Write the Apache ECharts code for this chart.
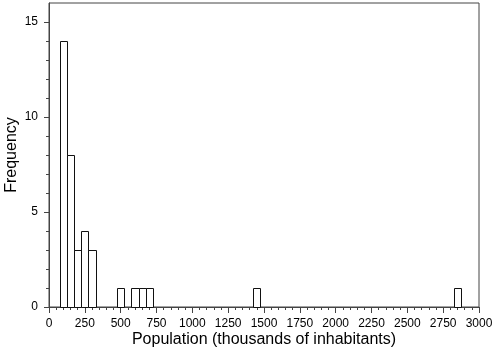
<!DOCTYPE html>
<html>
<head>
<meta charset="utf-8">
<script src="https://cdn.jsdelivr.net/npm/echarts@6/dist/echarts.min.js"></script>
<style>
html,body{margin:0;padding:0;background:#fff;}
#chart{width:498px;height:351px;}
</style>
</head>
<body>
<div id="chart"></div>
<script>
// Histogram data: bin centres (thousands of inhabitants) and frequencies
const binCenters = [100, 150, 200, 250, 300, 500, 600, 650, 700, 1450, 2850];
const frequencies = [14, 8, 3, 4, 3, 1, 1, 1, 1, 1, 1];
const binWidth = 50;

// Axis ticks
const xMin = 0, xMax = 3000, xInterval = 250;
const yMin = 0, yMax = 16;
const yMajorTicks = [0, 5, 10, 15];
const yMinorTicks = [1, 2, 3, 4, 6, 7, 8, 9, 11, 12, 13, 14];

const xTitle = 'Population (thousands of inhabitants)';
const yTitle = 'Frequency';

const FONT = 'Liberation Sans, Arial, Helvetica, sans-serif';
const AXIS_COLOR = '#444';

const data = binCenters.map((c, i) => [c, frequencies[i]]);

const chart = echarts.init(document.getElementById('chart'), null, {renderer: 'canvas'});
chart.setOption({
  animation: false,
  backgroundColor: '#fff',
  grid: {
    left: 49, right: 19, top: 3, bottom: 44,
    containLabel: false, outerBoundsMode: 'none',
    show: true, borderColor: AXIS_COLOR, borderWidth: 1, backgroundColor: 'transparent'
  },
  xAxis: {
    type: 'value', min: xMin, max: xMax, interval: xInterval,
    name: xTitle, nameLocation: 'middle', nameGap: 25, nameMoveOverlap: false,
    nameTextStyle: {fontFamily: FONT, fontSize: 16, color: '#000'},
    axisLine: {show: true, onZero: false, lineStyle: {color: AXIS_COLOR, width: 1}},
    axisTick: {show: true, inside: false, length: 6, lineStyle: {color: AXIS_COLOR}},
    minorTick: {show: true, splitNumber: 5, length: 3, lineStyle: {color: AXIS_COLOR}},
    splitLine: {show: false},
    axisLabel: {fontFamily: FONT, fontSize: 12, color: '#000', margin: 11,
      showMaxLabel: true, showMinLabel: true, hideOverlap: false,
      formatter: function (v) { return String(v); }}
  },
  yAxis: [{
    type: 'value', min: yMin, max: yMax,
    name: yTitle, nameLocation: 'middle', nameGap: 29, nameMoveOverlap: false,
    nameTextStyle: {fontFamily: FONT, fontSize: 16, color: '#000'},
    axisLine: {show: true, onZero: false, lineStyle: {color: AXIS_COLOR, width: 1}},
    axisTick: {show: true, inside: false, length: 5, customValues: yMajorTicks, lineStyle: {color: AXIS_COLOR}},
    splitLine: {show: false},
    axisLabel: {fontFamily: FONT, fontSize: 12, color: '#000', margin: 11, customValues: yMajorTicks}
  }, {
    type: 'value', min: yMin, max: yMax, position: 'left',
    axisLine: {show: false},
    axisTick: {show: true, inside: false, length: 3, customValues: yMinorTicks, lineStyle: {color: AXIS_COLOR}},
    splitLine: {show: false},
    axisLabel: {show: false}
  }],
  series: [{
    type: 'custom',
    yAxisIndex: 0,
    data: data,
    renderItem: function (params, api) {
      const c = api.value(0), f = api.value(1);
      const p0 = api.coord([c - binWidth / 2, f]);
      const p1 = api.coord([c + binWidth / 2, yMin]);
      const x0 = Math.round(p0[0]) + 0.5, x1 = Math.round(p1[0]) + 0.5;
      const y0 = Math.round(p0[1]) + 0.5, y1 = Math.round(p1[1]) + 0.5;
      return {
        type: 'rect',
        shape: {x: x0, y: y0, width: x1 - x0, height: y1 - y0},
        style: {fill: '#fff', stroke: '#111', lineWidth: 1}
      };
    }
  }]
});
</script>
</body>
</html>
